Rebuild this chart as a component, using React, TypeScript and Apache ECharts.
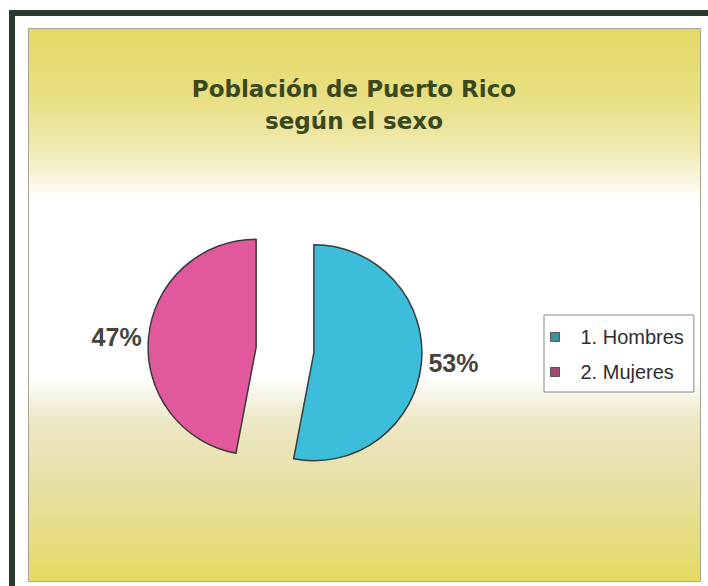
import React, { useEffect, useRef } from "react";
import * as echarts from "echarts";

const categories = ["1. Hombres", "2. Mujeres"];
const values = [53, 47];
const sliceColors = ["#3cbdd9", "#e2589c"];
const legendIconColors = ["#3f8f9f", "#a04a70"];
const titleLines = ["Población de Puerto Rico", "según el sexo"];

export default function App() {
  const ref = useRef<HTMLDivElement>(null);

  useEffect(() => {
    if (!ref.current) return;
    const chart = echarts.init(ref.current, undefined, { renderer: "svg" });

    const option: any = {
      animation: false,
      backgroundColor: "#ffffff",
      title: {
        text: titleLines.join("\n"),
        left: "center",
        top: 68,
        textStyle: {
          fontFamily: "DejaVu Sans",
          fontWeight: "bold",
          fontSize: 23,
          lineHeight: 32,
          color: "#3a491c",
        },
      },
      graphic: [
        {
          type: "rect",
          silent: true,
          z: 0,
          shape: { x: 9, y: 10, width: 699, height: 6 },
          style: { fill: "#2b3a2c" },
        },
        {
          type: "rect",
          silent: true,
          z: 0,
          shape: { x: 9, y: 10, width: 6, height: 576 },
          style: { fill: "#2b3a2c" },
        },
        {
          type: "rect",
          silent: true,
          z: 0,
          shape: { x: 28.5, y: 28.5, width: 672, height: 553 },
          style: {
            fill: new echarts.graphic.LinearGradient(0, 0, 0, 1, [
              { offset: 0, color: "#e4d966" },
              { offset: 0.12, color: "#e8df80" },
              { offset: 0.22, color: "#f0eab2" },
              { offset: 0.31, color: "#ffffff" },
              { offset: 0.63, color: "#ffffff" },
              { offset: 0.71, color: "#ece7c4" },
              { offset: 0.83, color: "#e7e0a4" },
              { offset: 1, color: "#e5da62" },
            ]),
            stroke: "#a8a595",
            lineWidth: 1,
          },
        },
      ],
      legend: {
        orient: "vertical",
        left: 544,
        top: 315,
        backgroundColor: "#ffffff",
        borderColor: "#8a8a8a",
        borderWidth: 1,
        borderRadius: 0,
        padding: [12, 10, 10, 6],
        itemWidth: 9,
        itemHeight: 9,
        itemGap: 15,
        icon: "rect",
        selectedMode: false,
        textStyle: {
          fontFamily: "Liberation Sans",
          fontSize: 20,
          lineHeight: 20,
          color: "#2e2e2e",
          padding: [0, 0, 0, 16],
        },
        data: categories.map((c, i) => ({
          name: c,
          itemStyle: {
            color: legendIconColors[i],
            borderColor: "#555555",
            borderWidth: 1,
          },
        })),
      },
      series: [
        {
          type: "pie",
          center: [285, 350],
          radius: 108,
          startAngle: 90,
          clockwise: true,
          selectedMode: "multiple",
          selectedOffset: 29,
          avoidLabelOverlap: false,
          itemStyle: {
            borderColor: "#3a3a3a",
            borderWidth: 1.5,
          },
          label: {
            show: true,
            position: "outside",
            formatter: "{d}%",
            fontFamily: "Liberation Sans",
            fontWeight: "bold",
            fontSize: 25,
            color: "#43453d",
          },
          labelLine: { show: false, length: 2, length2: 0 },
          emphasis: { disabled: true },
          select: {
            itemStyle: { borderColor: "#3a3a3a", borderWidth: 1.5 },
          },
          data: categories.map((c, i) => ({
            name: c,
            value: values[i],
            selected: true,
            itemStyle: { color: sliceColors[i] },
            select: { itemStyle: { color: sliceColors[i] } },
          })),
        },
      ],
    };

    chart.setOption(option);
    return () => chart.dispose();
  }, []);

  return (
    <div
      ref={ref}
      style={{ position: "absolute", left: 0, top: 0, width: 708, height: 586 }}
    />
  );
}
